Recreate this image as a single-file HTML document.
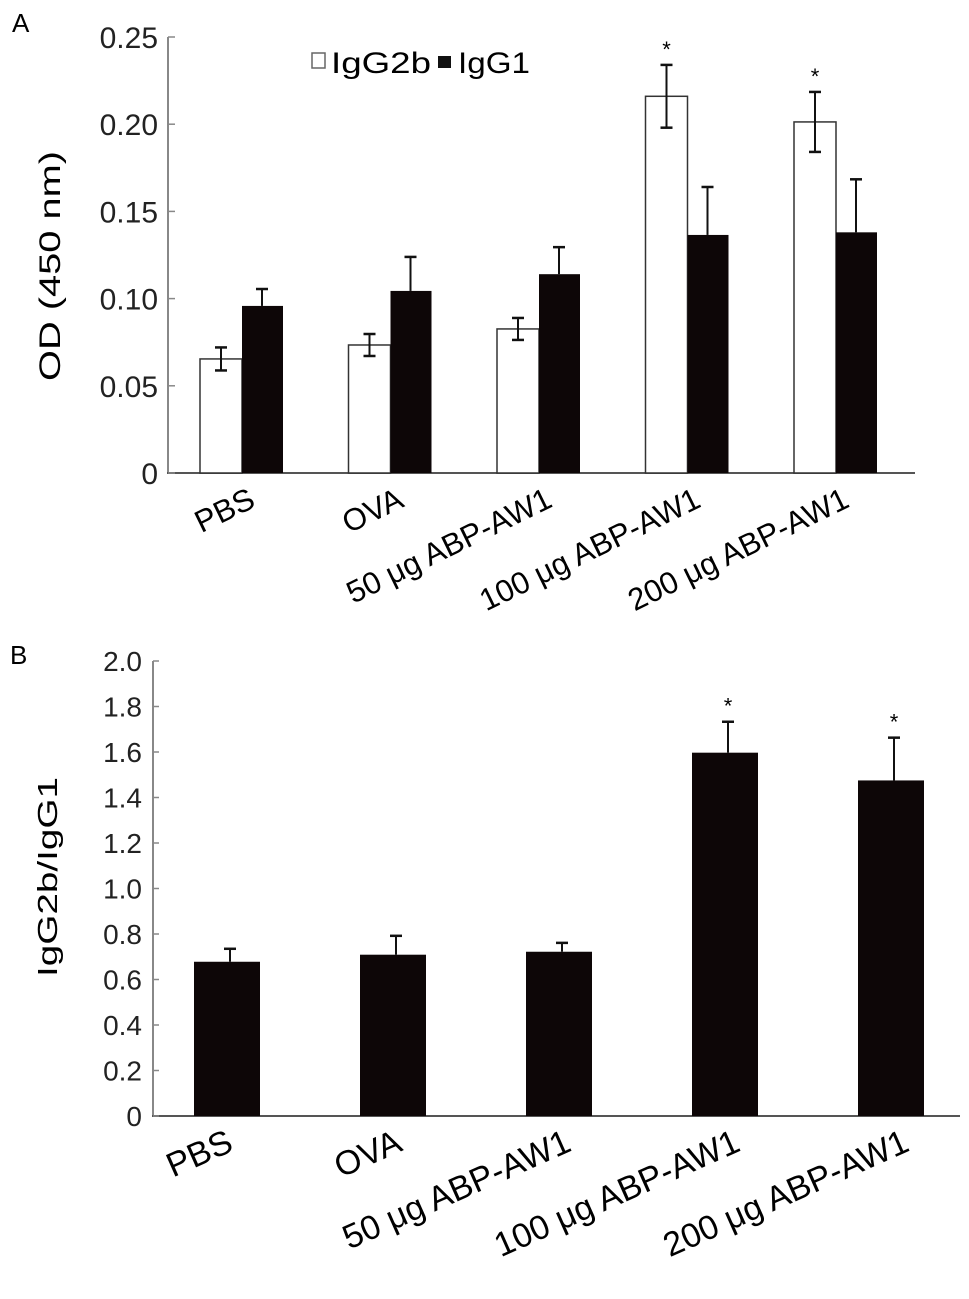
<!DOCTYPE html>
<html><head><meta charset="utf-8"><style>
html,body{margin:0;padding:0;background:#fff}
svg{display:block;font-family:"Liberation Sans",sans-serif}
</style></head><body>
<svg id="c" width="969" height="1299" viewBox="0 0 969 1299" xmlns="http://www.w3.org/2000/svg"></svg>
<script>
const catsA = ["PBS","OVA","50 μg ABP-AW1","100 μg ABP-AW1","200 μg ABP-AW1"];
const igg2b = [0.0654,0.0734,0.0826,0.216,0.2013];
const igg2bErr = [0.0066,0.0063,0.0063,0.018,0.0172];
const igg1 = [0.0958,0.1044,0.114,0.1365,0.138];
const igg1Err = [0.0097,0.0195,0.0155,0.0275,0.0304];
const sigA = [false,false,false,true,true];
const ticksA = ["0","0.05","0.10","0.15","0.20","0.25"];
const ticksAVal = [0,0.05,0.10,0.15,0.20,0.25];
const ratio = [0.678,0.709,0.722,1.597,1.475];
const ratioErr = [0.057,0.083,0.039,0.136,0.188];
const sigB = [false,false,false,true,true];
const ticksB = ["0","0.2","0.4","0.6","0.8","1.0","1.2","1.4","1.6","1.8","2.0"];
const ticksBVal = [0,0.2,0.4,0.6,0.8,1.0,1.2,1.4,1.6,1.8,2.0];

const svg=document.getElementById('c');
const NS="http://www.w3.org/2000/svg";
function mk(tag,attrs,txt){const e=document.createElementNS(NS,tag);for(const k in attrs)e.setAttribute(k,attrs[k]);if(txt!==undefined)e.textContent=txt;svg.appendChild(e);return e;}

// Panel A
const yA=v=>473-v/0.25*436;
const xA=i=>242+i*148.5;
let e;
e=mk('text',{x:12,y:32,'font-size':26},'A');


e=mk('line',{x1:168,y1:37,x2:168,y2:473,stroke:'#888','stroke-width':2});


e=mk('line',{x1:167,y1:473,x2:915,y2:473,stroke:'#555','stroke-width':2});


ticksAVal.forEach((v,i)=>{
  e=mk('line',{x1:168,y1:yA(v),x2:175,y2:yA(v),stroke:'#888','stroke-width':1.5});
  
  
  e=mk('text',{x:158,y:yA(v)+11,'font-size':30,'text-anchor':'end',fill:'#222'},ticksA[i]);
  
  
});
e=mk('text',{x:0,y:0,'font-size':30,'text-anchor':'middle',textLength:230,lengthAdjust:'spacingAndGlyphs',transform:'translate(60,266) rotate(-90)'},'OD (450 nm)');


function errBar(x,top,bot,name){
  e=mk('line',{x1:x,y1:top,x2:x,y2:bot,stroke:'#111','stroke-width':2});
  
  
  e=mk('line',{x1:x-6,y1:top,x2:x+6,y2:top,stroke:'#111','stroke-width':2.5});
  
  
}
catsA.forEach((c,i)=>{
  const cx=xA(i);
  e=mk('rect',{x:cx-42,y:yA(igg2b[i]),width:42,height:473-yA(igg2b[i]),fill:'#fff',stroke:'#333','stroke-width':1.5});
  
  
  const w=cx-21;
  e=mk('line',{x1:w,y1:yA(igg2b[i]-igg2bErr[i]),x2:w,y2:yA(igg2b[i]+igg2bErr[i]),stroke:'#111','stroke-width':2});
  
  
  [igg2b[i]-igg2bErr[i],igg2b[i]+igg2bErr[i]].forEach(v=>{
    e=mk('line',{x1:w-6,y1:yA(v),x2:w+6,y2:yA(v),stroke:'#111','stroke-width':2.5});
    
    
  });
  e=mk('rect',{x:cx,y:yA(igg1[i]),width:41,height:473-yA(igg1[i]),fill:'#0d0607'});
  
  
  errBar(cx+20,yA(igg1[i]+igg1Err[i]),yA(igg1[i]),'error-bar-igg1');
  if(sigA[i]){
    e=mk('text',{x:w,y:yA(igg2b[i]+igg2bErr[i])-8,'font-size':22,'text-anchor':'middle'},'*');
    
    
  }
  e=mk('text',{x:0,y:0,'font-size':31,'text-anchor':'end',transform:`translate(${cx+15},506) rotate(-26)`},c);
  
  
});
e=mk('rect',{x:312,y:53,width:13,height:15,fill:'#fff',stroke:'#666','stroke-width':1.5});


e=mk('text',{x:331,y:73,'font-size':30,textLength:100,lengthAdjust:'spacingAndGlyphs'},'IgG2b');


e=mk('rect',{x:438,y:56,width:13,height:12,fill:'#111'});


e=mk('text',{x:458,y:73,'font-size':30,textLength:72,lengthAdjust:'spacingAndGlyphs'},'IgG1');



// Panel B
const yB=v=>1116-v/2.0*455;
const xB=i=>227+i*166;
e=mk('text',{x:10,y:664,'font-size':26},'B');


e=mk('line',{x1:153,y1:661,x2:153,y2:1116,stroke:'#888','stroke-width':2});


e=mk('line',{x1:152,y1:1116,x2:960,y2:1116,stroke:'#555','stroke-width':2});


ticksBVal.forEach((v,i)=>{
  e=mk('line',{x1:153,y1:yB(v),x2:159,y2:yB(v),stroke:'#888','stroke-width':1.5});
  
  
  e=mk('text',{x:142,y:yB(v)+10,'font-size':28,'text-anchor':'end',fill:'#222'},ticksB[i]);
  
  
});
e=mk('text',{x:0,y:0,'font-size':28,'text-anchor':'middle',textLength:200,lengthAdjust:'spacingAndGlyphs',transform:'translate(57,877) rotate(-90)'},'IgG2b/IgG1');


catsA.forEach((c,i)=>{
  const cx=xB(i);
  e=mk('rect',{x:cx-33,y:yB(ratio[i]),width:66,height:1116-yB(ratio[i]),fill:'#0d0607'});
  
  
  errBar(cx+3,yB(ratio[i]+ratioErr[i]),yB(ratio[i]),'error-bar-ratio');
  if(sigB[i]){
    e=mk('text',{x:cx+3,y:yB(ratio[i]+ratioErr[i])-8,'font-size':22,'text-anchor':'middle'},'*');
    
    
  }
  e=mk('text',{x:0,y:0,'font-size':34,'text-anchor':'end',transform:`translate(${cx+8+i*3},1150) rotate(-24)`},c);
  
  
});
</script>
</body></html>
